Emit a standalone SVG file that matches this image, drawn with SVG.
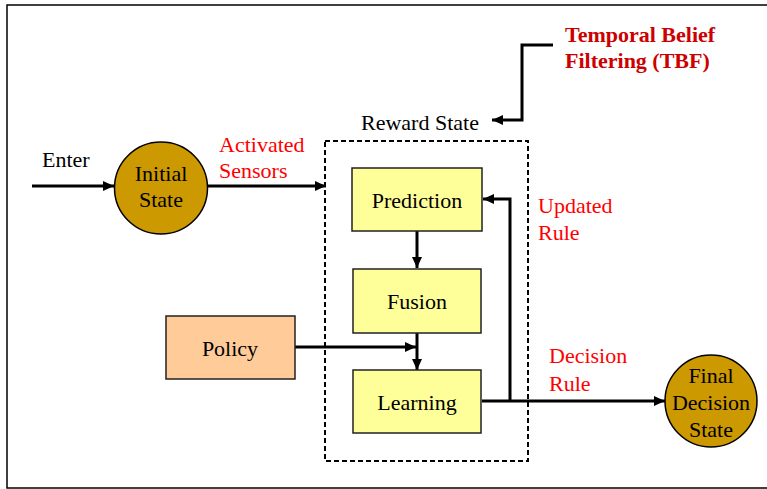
<svg xmlns="http://www.w3.org/2000/svg" width="767" height="489" viewBox="0 0 767 489">
<style>
text{font-family:'Liberation Serif','DejaVu Serif',serif;font-size:22px;fill:#000}
.red{fill:#FF0000}
.tbf{fill:#CC0000;font-weight:bold}
.mid{text-anchor:middle}
.circle{fill:#CC9900;stroke:#000;stroke-width:1.5}
.box{fill:#FFFF99;stroke:#222;stroke-width:1.5}
.conn{fill:none;stroke:#000;stroke-width:3}
</style>
<defs>
<marker id="arr" markerUnits="userSpaceOnUse" markerWidth="12" markerHeight="12" refX="11" refY="6" orient="auto" viewBox="0 0 12 12">
<path d="M0,1 L11,6 L0,11 z" fill="#000"/>
</marker>
</defs>
<rect x="7" y="5" width="800" height="483" fill="#fff" stroke="#000" stroke-width="1.5"/>
<g id="reward-state">
<rect x="325" y="141" width="203" height="320" fill="none" stroke="#000" stroke-width="2" stroke-dasharray="5,3"/>
<text x="361" y="130">Reward State</text>
</g>
<g id="connectors">
<line class="conn" x1="32" y1="186" x2="114" y2="186" marker-end="url(#arr)"/>
<line class="conn" x1="207" y1="186" x2="326" y2="186" marker-end="url(#arr)"/>
<line class="conn" x1="417" y1="231" x2="417" y2="268" marker-end="url(#arr)"/>
<line class="conn" x1="417" y1="333" x2="417" y2="370" marker-end="url(#arr)"/>
<line class="conn" x1="295" y1="347" x2="416" y2="347" marker-end="url(#arr)"/>
<line class="conn" x1="482" y1="401" x2="665" y2="401" marker-end="url(#arr)"/>
<polyline class="conn" points="510,401 510,199 483,199" marker-end="url(#arr)"/>
<polyline class="conn" points="553,45 522,45 522,120 492,120" marker-end="url(#arr)"/>
</g>
<g id="labels">
<text x="42" y="167">Enter</text>
<text class="red" x="219" y="152">Activated</text>
<text class="red" x="219" y="178">Sensors</text>
<text class="red" x="538" y="213">Updated</text>
<text class="red" x="538" y="240">Rule</text>
<text class="red" x="549" y="363">Decision</text>
<text class="red" x="549" y="391">Rule</text>
<text class="tbf" x="565" y="42">Temporal Belief</text>
<text class="tbf" x="565" y="68">Filtering (TBF)</text>
</g>
<g id="initial-state">
<ellipse class="circle" cx="161" cy="188" rx="46.5" ry="46"/>
<text class="mid" x="161" y="181">Initial</text>
<text class="mid" x="161" y="207">State</text>
</g>
<g id="prediction">
<rect class="box" x="352" y="168" width="130" height="63"/>
<text class="mid" x="417" y="208">Prediction</text>
</g>
<g id="fusion">
<rect class="box" x="353" y="269" width="128" height="64"/>
<text class="mid" x="417" y="309">Fusion</text>
</g>
<g id="learning">
<rect class="box" x="353" y="370" width="128" height="63"/>
<text class="mid" x="417" y="410">Learning</text>
</g>
<g id="policy">
<rect x="166" y="316" width="129" height="63" fill="#FFCC99" stroke="#222" stroke-width="1.5"/>
<text class="mid" x="230" y="356">Policy</text>
</g>
<g id="final-decision-state">
<circle class="circle" cx="711" cy="401" r="46"/>
<text class="mid" x="711" y="383">Final</text>
<text class="mid" x="711" y="410">Decision</text>
<text class="mid" x="711" y="437">State</text>
</g>
</svg>
